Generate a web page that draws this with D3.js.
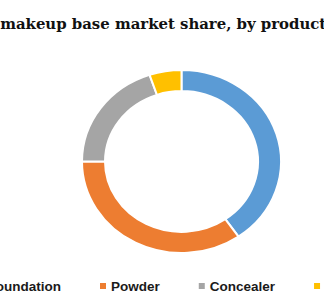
<!DOCTYPE html>
<html>
<head>
<meta charset="utf-8">
<script src="https://cdn.jsdelivr.net/npm/d3@7"></script>
<style>
  html, body { margin: 0; padding: 0; background: #fff; overflow: hidden; }
  svg { display: block; }
</style>
</head>
<body>
<svg id="chart"></svg>
<script>
// Market share by product (%)
const categories = ["Foundation", "Powder", "Concealer", "Others"];
const shares = [40.3, 34.7, 19.8, 5.2];
const colours = ["#5B9BD5", "#ED7D31", "#A5A5A5", "#FFC000"];
const titleText = "Global makeup base market share, by product, 2021 (%)";
const titleCut = "Global ";

const width = 324, height = 300;

const svg = d3.select("#chart")
    .attr("width", width)
    .attr("height", height);

// Title, shifted so that the visible part starts at the left edge
const titleFont = "bold 14.9px 'DejaVu Serif'";
const title = svg.append("text")
    .attr("y", 29)
    .style("font", titleFont)
    .attr("fill", "#111")
    .text(titleText);
const probe = svg.append("text")
    .style("font", titleFont)
    .text(titleCut.trim());
const cutWidth = probe.node().getComputedTextLength() + 5;
probe.remove();
title.attr("x", -cutWidth);

// Donut (slightly squashed vertically, like the original)
const cx = 181.5, cy = 161.5;
const outerR = 99.5, innerR = 76.5, squash = 0.92;

const pie = d3.pie().sort(null).value(d => d);
const arc = d3.arc().innerRadius(innerR).outerRadius(outerR);

const ring = svg.append("g")
    .attr("transform", `translate(${cx},${cy}) scale(1,${squash})`);

ring.selectAll("path")
    .data(pie(shares))
    .join("path")
    .attr("d", arc)
    .attr("fill", (d, i) => colours[i])
    .attr("stroke", "#fff")
    .attr("stroke-width", 2)
    .attr("vector-effect", "non-scaling-stroke");

// Legend, laid out from the Powder marker
const legendY = 286;
const markerSize = 6, markerGap = 5, itemGap = 39;
const legendFont = "bold 13.5px 'Liberation Sans'";

const legend = svg.append("g");
const items = legend.selectAll("g")
    .data(categories)
    .join("g");

items.append("rect")
    .attr("width", markerSize)
    .attr("height", markerSize)
    .attr("y", legendY - markerSize / 2)
    .attr("fill", (d, i) => colours[i]);

items.append("text")
    .attr("y", legendY)
    .attr("dy", "0.35em")
    .style("font", legendFont)
    .attr("fill", "#1a1a1a")
    .text(d => d);

const widths = [];
items.select("text").each(function () { widths.push(this.getComputedTextLength()); });

const xs = [];
xs[1] = 100;
xs[0] = xs[1] - itemGap - widths[0] - markerGap - markerSize;
for (let i = 2; i < categories.length; i++) {
    xs[i] = xs[i - 1] + markerSize + markerGap + widths[i - 1] + itemGap;
}

items.select("rect").attr("x", (d, i) => xs[i]);
items.select("text").attr("x", (d, i) => xs[i] + markerSize + markerGap);
</script>
</body>
</html>
